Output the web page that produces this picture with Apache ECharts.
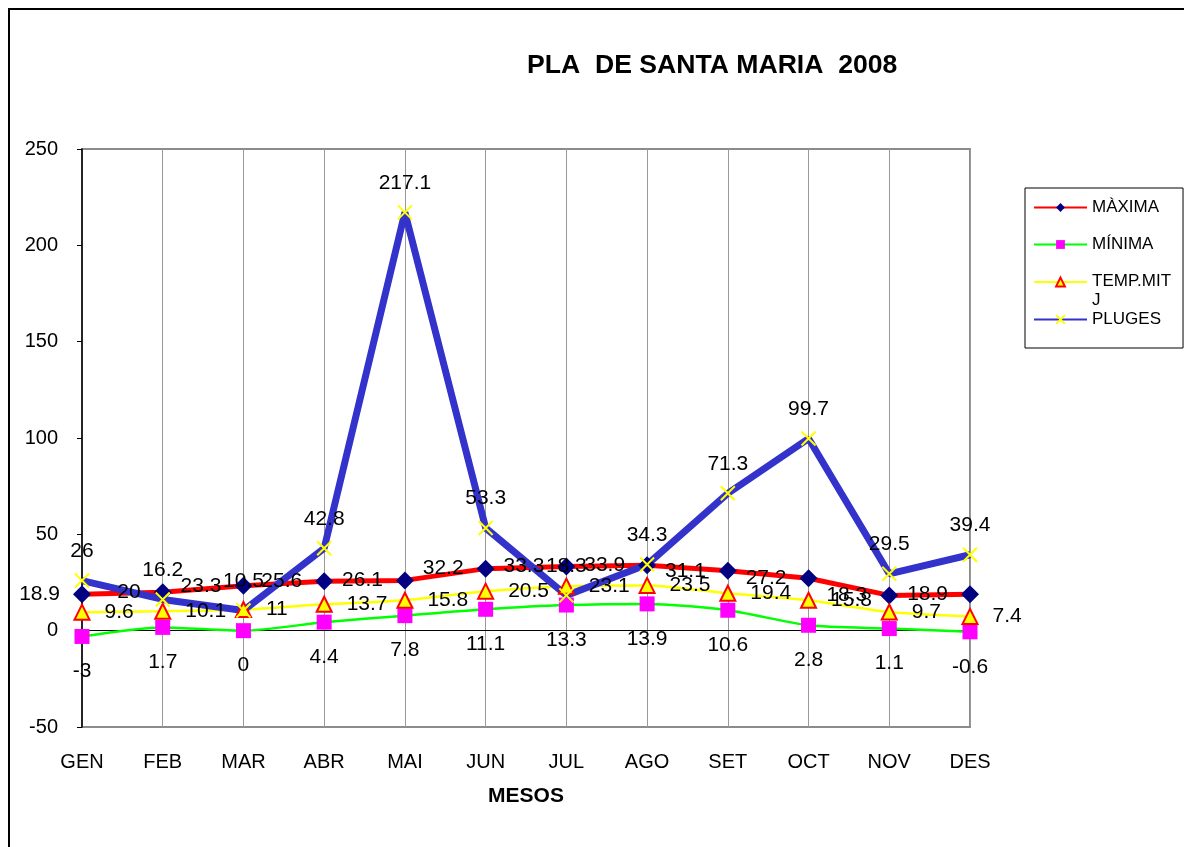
<!DOCTYPE html>
<html>
<head>
<meta charset="utf-8">
<script src="https://cdn.jsdelivr.net/npm/echarts@6/dist/echarts.min.js"></script>
<style>html,body{margin:0;padding:0;background:#fff;}#c{width:1184px;height:847px;}</style>
</head>
<body>
<div id="c"></div>
<script>
var months = ['GEN','FEB','MAR','ABR','MAI','JUN','JUL','AGO','SET','OCT','NOV','DES'];
var maxima = [18.9, 20, 23.3, 25.6, 26.1, 32.2, 33.3, 33.9, 31.1, 27.2, 18.3, 18.9];
var minima = [-3, 1.7, 0, 4.4, 7.8, 11.1, 13.3, 13.9, 10.6, 2.8, 1.1, -0.6];
var tempMitj = [9.6, 10.1, 11, 13.7, 15.8, 20.5, 23.1, 23.5, 19.4, 15.8, 9.7, 7.4];
var pluges = [26, 16.2, 10.5, 42.8, 217.1, 53.3, 18.3, 34.3, 71.3, 99.7, 29.5, 39.4];
var yMin = -50, yMax = 250, yStep = 50;

var FONT = 'Liberation Sans, Arial, sans-serif';
var chart = echarts.init(document.getElementById('c'), null, {renderer: 'canvas'});

function lbl(pos, dist) {
  return {show: true, position: pos, distance: dist, color: '#000', fontSize: 21, fontFamily: FONT};
}

chart.setOption({
  animation: false,
  backgroundColor: '#fff',
  textStyle: {fontFamily: FONT},
  graphic: [{
    type: 'rect', silent: true, z: -10,
    shape: {x: 9, y: 9, width: 1400, height: 1000},
    style: {fill: 'none', stroke: '#000', lineWidth: 2}
  }],
  title: {
    text: 'PLA  DE SANTA MARIA  2008',
    left: 527, top: 52, padding: 0,
    textStyle: {fontSize: 26.6, fontWeight: 'bold', color: '#000', fontFamily: FONT}
  },
  legend: {
    orient: 'vertical',
    left: 1025, top: 188,
    padding: [1, 12, 18, 8],
    itemGap: 0,
    itemWidth: 53, itemHeight: 11,
    borderColor: '#000', borderWidth: 1,
    backgroundColor: '#fff',
    lineStyle: {width: 2},
    selectedMode: false,
    data: ['MÀXIMA', 'MÍNIMA', 'TEMP.MITJ', {name: 'PLUGES', textStyle: {lineHeight: 21}}],
    formatter: function (n) { return n === 'TEMP.MITJ' ? '{a|TEMP.MIT}\n{b|J}' : n; },
    textStyle: {
      fontSize: 17, color: '#000', fontFamily: FONT, lineHeight: 37,
      rich: {
        a: {fontSize: 17, color: '#000', fontFamily: FONT, lineHeight: 37},
        b: {fontSize: 17, color: '#000', fontFamily: FONT, lineHeight: 1}
      }
    }
  },
  grid: {
    left: 82, right: 214, top: 149, bottom: 120,
    show: true, borderColor: '#8c8c8c', borderWidth: 2, backgroundColor: 'transparent'
  },
  xAxis: [{
    type: 'category', data: months, boundaryGap: false, position: 'bottom',
    axisLine: {show: false, onZero: false},
    axisTick: {show: false},
    splitLine: {show: true, lineStyle: {color: '#999', width: 1}},
    axisLabel: {color: '#000', fontSize: 20, margin: 25, fontFamily: FONT, interval: 0},
    name: 'MESOS', nameLocation: 'middle', nameGap: 59,
    nameTextStyle: {fontSize: 21, fontWeight: 'bold', color: '#000', fontFamily: FONT}
  }, {
    type: 'category', data: months, boundaryGap: false,
    axisLine: {show: true, onZero: true, lineStyle: {color: '#000', width: 1}},
    axisTick: {show: false}, axisLabel: {show: false}, splitLine: {show: false}
  }],
  yAxis: [{
    type: 'value', min: yMin, max: yMax, interval: yStep,
    axisLine: {show: true, lineStyle: {color: '#000', width: 1.5}},
    axisTick: {show: true, length: 5, lineStyle: {color: '#000'}},
    splitLine: {show: false},
    axisLabel: {color: '#000', fontSize: 20, margin: 24, fontFamily: FONT}
  }],
  series: [{
    name: 'MÀXIMA', type: 'line', data: maxima,
    symbol: 'diamond', symbolSize: 18,
    lineStyle: {color: '#ff0000', width: 5},
    itemStyle: {color: '#000080'},
    label: lbl('left', 13),
    emphasis: {disabled: true}
  }, {
    name: 'MÍNIMA', type: 'line', data: minima, smooth: 0.25,
    symbol: 'rect', symbolSize: 15,
    lineStyle: {color: '#00ff00', width: 2.5},
    itemStyle: {color: '#ff00ff'},
    label: lbl('bottom', 17),
    emphasis: {disabled: true}
  }, {
    name: 'TEMP.MITJ', type: 'line', data: tempMitj, smooth: 0.25,
    symbol: 'triangle', symbolSize: 15,
    lineStyle: {color: '#ffff00', width: 2.5},
    itemStyle: {color: '#ffff00', borderColor: '#ff0000', borderWidth: 2},
    label: lbl('right', 14),
    emphasis: {disabled: true}
  }, {
    name: 'PLUGES', type: 'line', data: pluges,
    symbol: 'path://M0,0L10,10M10,0L0,10', symbolSize: 14,
    lineStyle: {color: '#3333cc', width: 7},
    itemStyle: {color: '#ffff00', borderColor: '#ffff00', borderWidth: 2},
    label: lbl('top', 11),
    emphasis: {disabled: true}
  }]
});
</script>
</body>
</html>
